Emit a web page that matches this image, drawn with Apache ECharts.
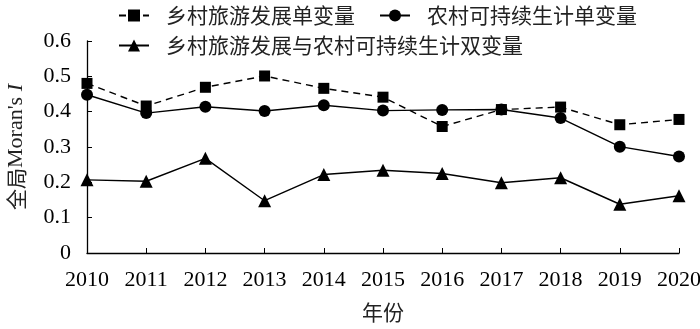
<!DOCTYPE html>
<html><head><meta charset="utf-8">
<script src="https://cdn.jsdelivr.net/npm/echarts@6/dist/echarts.min.js"></script>
<style>html,body{margin:0;padding:0;background:#fff}#c{width:700px;height:329px}</style>
</head><body><div id="c"></div>
<script>
const years = ['2010','2011','2012','2013','2014','2015','2016','2017','2018','2019','2020'];
const seriesNames = ['乡村旅游发展单变量','农村可持续生计单变量','乡村旅游发展与农村可持续生计双变量'];
const tourism = [0.480,0.416,0.469,0.501,0.466,0.441,0.358,0.406,0.413,0.363,0.378];
const livelihood = [0.448,0.396,0.414,0.402,0.418,0.403,0.405,0.406,0.382,0.301,0.273];
const bivariate = [0.207,0.203,0.268,0.148,0.222,0.234,0.225,0.199,0.213,0.138,0.162];
const yTicks = ['0','0.1','0.2','0.3','0.4','0.5','0.6'];

const serif = '"Liberation Serif","Times New Roman","Noto Sans CJK SC",serif';
const cjk = '"Noto Sans CJK SC","Liberation Serif",serif';
const chart = echarts.init(document.getElementById('c'));
const legendText = {fontFamily: cjk, fontSize: 21, color: '#222', padding: [0, 0, 0, 12]};
chart.setOption({
  animation: false,
  legend: [
    {data: [seriesNames[0], seriesNames[1]], left: 113, top: 0, itemGap: 24, itemWidth: 30, itemHeight: 15, textStyle: legendText},
    {data: [seriesNames[2]], left: 113, top: 30, itemWidth: 30, itemHeight: 15, textStyle: legendText}
  ],
  grid: {left: 87, right: 21, top: 41, bottom: 76, outerBoundsMode: 'none', containLabel: false},
  xAxis: {
    type: 'category', data: years, boundaryGap: false,
    name: '年份', nameLocation: 'middle', nameGap: 49,
    nameTextStyle: {fontFamily: cjk, fontSize: 21, color: '#222'},
    axisLine: {lineStyle: {color: '#000', width: 1.3}},
    axisTick: {inside: true, length: 5, lineStyle: {color: '#000'}},
    axisLabel: {fontFamily: serif, fontSize: 22, color: '#000', margin: 16}
  },
  yAxis: {
    type: 'value', min: 0, max: 0.6, interval: 0.1,
    name: "{c|全局}Moran's {i|I}", nameLocation: 'middle', nameGap: 60,
    nameTextStyle: {fontFamily: serif, fontSize: 22, color: '#222',
      rich: {
        c: {fontFamily: cjk, fontSize: 21, color: '#222'},
        i: {fontFamily: serif, fontStyle: 'italic', fontSize: 22, color: '#222'}}},
    splitLine: {show: false},
    axisLine: {show: true, lineStyle: {color: '#000', width: 1.3}},
    axisTick: {show: true, inside: true, length: 5, lineStyle: {color: '#000'}},
    axisLabel: {fontFamily: serif, fontSize: 22, color: '#000', margin: 16,
      formatter: (v) => yTicks[Math.round(v * 10)]}
  },
  series: [
    {name: seriesNames[0], type: 'line', data: tourism, symbol: 'rect', symbolSize: 11,
     lineStyle: {color: '#000', width: 1.4, type: [7, 5]}, itemStyle: {color: '#000'}},
    {name: seriesNames[1], type: 'line', data: livelihood, symbol: 'circle', symbolSize: 12,
     lineStyle: {color: '#000', width: 1.4}, itemStyle: {color: '#000'}},
    {name: seriesNames[2], type: 'line', data: bivariate, symbol: 'triangle', symbolSize: 13,
     lineStyle: {color: '#000', width: 1.4}, itemStyle: {color: '#000'}}
  ]
});
</script></body></html>
